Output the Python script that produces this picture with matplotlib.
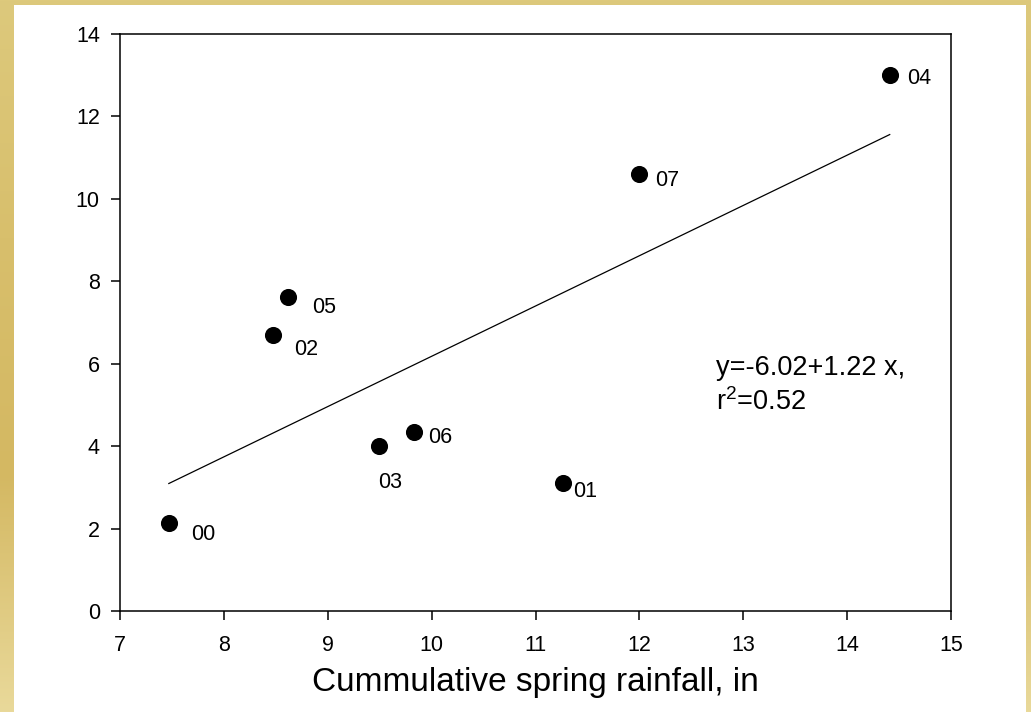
import numpy as np
import matplotlib.pyplot as plt
from matplotlib.colors import LinearSegmentedColormap
from matplotlib.patches import Rectangle

plt.rcParams['font.family'] = ['Liberation Sans', 'DejaVu Sans']
plt.rcParams['mathtext.default'] = 'regular'

# data
years = ["00", "02", "05", "03", "06", "01", "07", "04"]
rain = [7.47, 8.47, 8.62, 9.49, 9.83, 11.26, 12.0, 14.41]
yval = [2.13, 6.70, 7.62, 4.00, 4.34, 3.11, 10.60, 13.00]
# label offsets (pixels) from each point
lab_dx = [34, 33, 36, 11, 26, 23, 28, 29]
lab_dy = [-11, -15, -11, -36, -5, -9, -6, -3]

intercept = -6.02
slope = 1.22
r2 = 0.52

fig = plt.figure(figsize=(10.31, 7.12), dpi=100)

# gold frame with vertical gradient
bg = fig.add_axes([0, 0, 1, 1], zorder=-10)
cmap = LinearSegmentedColormap.from_list("gold", ["#DDC97C", "#D8BF6C", "#D4B862", "#E9D99A"])
bg.imshow(np.linspace(0, 1, 256).reshape(-1, 1), aspect="auto", cmap=cmap,
          extent=[0, 1, 0, 1], origin="upper")
bg.add_patch(Rectangle((14 / 1031, 0), (1026 - 14) / 1031, (712 - 5) / 712,
                       facecolor="white", edgecolor="none"))
bg.set_xlim(0, 1)
bg.set_ylim(0, 1)
bg.axis("off")

ax = fig.add_axes([120 / 1031, 101 / 712, 831 / 1031, 577 / 712])
ax.set_facecolor("none")

xfit = np.array([min(rain), max(rain)])
ax.plot(xfit, intercept + slope * xfit, color="black", lw=0.9)
ax.plot(rain, yval, "o", color="black", markersize=11.3)

for x, y, t, dx, dy in zip(rain, yval, years, lab_dx, lab_dy):
    ax.annotate(t, (x, y), xytext=(dx, dy), textcoords="offset pixels",
                ha="center", va="center", fontsize=15.5)

ax.text(12.74, 6.2, "y=%.2f+%.2f x,\nr$^{2}$=%.2f" % (intercept, slope, r2),
        fontsize=19.5, va="top", ha="left", linespacing=1.3)

ax.set_xlim(7, 15)
ax.set_ylim(0, 14)
ax.set_xticks(range(7, 16))
ax.set_yticks(range(0, 15, 2))
for s in ax.spines.values():
    s.set_linewidth(1.1)
ax.tick_params(direction="out", length=6.5, width=1.1, labelsize=15.5)
ax.tick_params(axis="x", pad=11)
ax.tick_params(axis="y", pad=8)
ax.set_xlabel("Cummulative spring rainfall, in", fontsize=24, labelpad=8)

fig.savefig("out.png", dpi=100)
